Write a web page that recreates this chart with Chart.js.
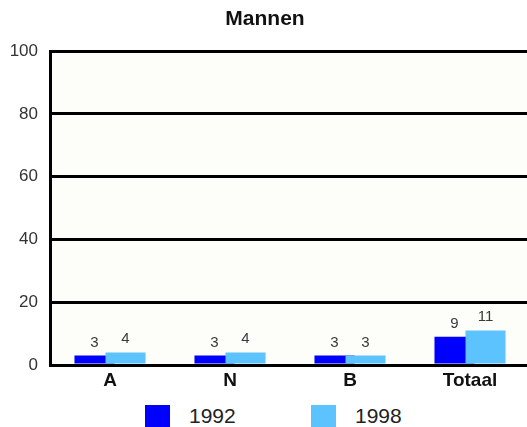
<!DOCTYPE html>
<html>
<head>
<meta charset="utf-8">
<script src="https://cdn.jsdelivr.net/npm/chart.js@4"></script>
<style>
    body { margin: 0; background: #fff; overflow: hidden; width: 527px; height: 427px; position: relative; font-family: 'Liberation Sans', Arial, sans-serif; }
    #grafico { position: absolute; left: 0; top: 0; }
    .box { position: absolute; top: 405px; width: 25px; height: 22px; }
    .lbl { position: absolute; top: 405px; line-height: 22px; font-size: 21px; color: #222; }
</style>
</head>
<body>
<canvas id="grafico" width="540" height="400"></canvas>
<div id="legend"></div>
<script>
const categorias = ['A', 'N', 'B', 'Totaal'];
const series = ['1992', '1998'];
const valores1992 = [3, 3, 3, 9];
const valores1998 = [4, 4, 3, 11];
const colores = ['#0000FF', '#5CC3FF'];
const yTicks = [0, 20, 40, 60, 80, 100];

// plot background + draw 1992 first so 1998 overlaps it, then the value labels
const fondo = {
    id: 'fondo',
    beforeDraw(chart) {
        const { ctx, chartArea } = chart;
        ctx.save();
        ctx.fillStyle = '#FDFDF9';
        ctx.fillRect(chartArea.left, chartArea.top, chartArea.right - chartArea.left, chartArea.bottom - chartArea.top);
        ctx.restore();
    },
    beforeDatasetsDraw(chart) {
        const ctx = chart.ctx;
        chart.data.datasets.forEach((ds, i) => chart.getDatasetMeta(i).controller.draw());
        ctx.save();
        ctx.font = '15px "Liberation Sans", Arial, sans-serif';
        ctx.fillStyle = '#3a3a3a';
        ctx.textAlign = 'center';
        ctx.textBaseline = 'alphabetic';
        chart.data.datasets.forEach((ds, i) => {
            chart.getDatasetMeta(i).data.forEach((el, j) => {
                ctx.fillText(ds.data[j], el.x, el.y - 9);
            });
        });
        ctx.restore();
        return false;
    }
};

const ctx = document.getElementById('grafico').getContext('2d');
new Chart(ctx, {
    type: 'bar',
    data: {
        labels: categorias,
        datasets: [
            { label: series[0], data: valores1992, backgroundColor: colores[0] },
            { label: series[1], data: valores1998, backgroundColor: colores[1] }
        ]
    },
    options: {
        responsive: false,
        animation: false,
        categoryPercentage: 0.517,
        barPercentage: 1.29,
        layout: { padding: { left: 0, right: 10, top: 0, bottom: 0 } },
        plugins: {
            legend: { display: false },
            tooltip: { enabled: false },
            title: {
                display: true,
                text: 'Mannen',
                color: '#111',
                font: { family: '"Liberation Sans", Arial, sans-serif', size: 21, weight: 'bold' },
                padding: { top: 7, bottom: 19 }
            }
        },
        scales: {
            x: {
                grid: { display: false, drawTicks: false },
                border: { display: true, color: '#000', width: 3 },
                ticks: { color: '#111', padding: 4, font: { family: '"Liberation Sans", Arial, sans-serif', size: 19, weight: 'bold' } },
                afterFit: s => { s.height = 35; }
            },
            y: {
                min: yTicks[0],
                max: yTicks[yTicks.length - 1],
                afterBuildTicks: s => { s.ticks = yTicks.map(v => ({ value: v })); },
                grid: { color: '#000', lineWidth: 3, drawTicks: false },
                border: { display: true, color: '#000', width: 3 },
                ticks: { color: '#333', padding: 12, font: { family: '"Liberation Sans", Arial, sans-serif', size: 17 } },
                afterFit: s => { s.width = 50; }
            }
        }
    },
    plugins: [fondo]
});

// legend underneath
const legend = document.getElementById('legend');
const cajaX = [145, 311];
series.forEach((s, i) => {
    const box = document.createElement('div');
    box.className = 'box';
    box.style.left = cajaX[i] + 'px';
    box.style.background = colores[i];
    legend.appendChild(box);
    const lbl = document.createElement('div');
    lbl.className = 'lbl';
    lbl.style.left = (cajaX[i] + 44) + 'px';
    lbl.textContent = s;
    legend.appendChild(lbl);
});
</script>
</body>
</html>
